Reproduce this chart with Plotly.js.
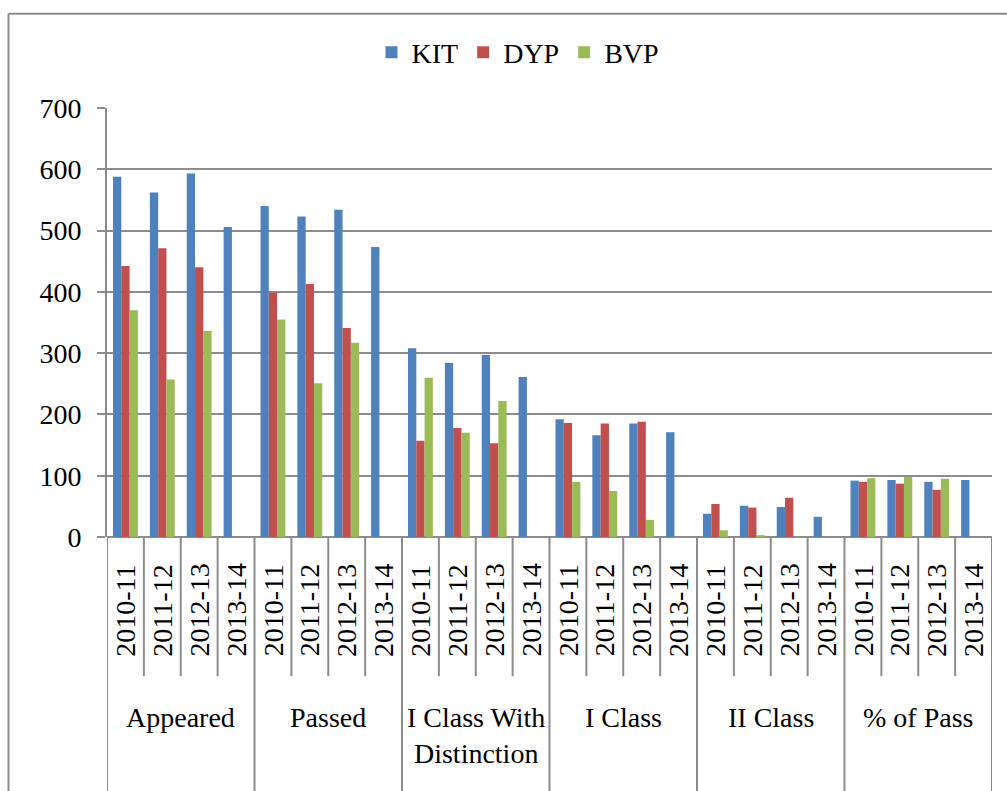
<!DOCTYPE html>
<html>
<head>
<meta charset="utf-8">
<script src="https://cdn.plot.ly/plotly-3.0.1.min.js"></script>
<style>html,body{margin:0;padding:0;background:#fff;}#chart{width:1007px;height:791px;}</style>
</head>
<body>
<div id="chart"></div>
<script>
// ---- data ----
const groups = ["Appeared", "Passed", "I Class With<br>Distinction", "I Class", "II Class", "% of Pass"];
const years = ["2010-11", "2011-12", "2012-13", "2013-14"];
const seriesNames = ["KIT", "DYP", "BVP"];
const kit = [588, 562, 593, 506, 540, 523, 534, 473, 308, 284, 297, 261, 192, 166, 185, 171, 38, 51, 49, 33, 92, 93, 90, 93];
const dyp = [442, 471, 440, null, 399, 413, 341, null, 157, 178, 153, null, 186, 185, 188, null, 54, 48, 64, null, 90, 87, 77, null];
const bvp = [370, 257, 336, null, 355, 251, 317, null, 260, 170, 222, null, 90, 75, 28, null, 11, 3, null, null, 96, 98, 95, null];
const yTicks = [0, 100, 200, 300, 400, 500, 600, 700];

// ---- build ----
const colors = ["#4F81BD", "#C0504D", "#9BBB59"];
const cats = [];
groups.forEach(g => years.forEach(y => cats.push(g.replace("<br>", " ") + " | " + y)));
const values = [kit, dyp, bvp];
const traces = values.map((v, i) => ({
  type: "bar", name: seriesNames[i], x: cats, y: v,
  marker: {color: colors[i], line: {width: 0}}, hoverinfo: "y+name"
}));

const font = "Liberation Serif";
const gray = "#8c8c8c";
const H = 430; // plot height in px
const pyFromPx = px => (537.5 - px) / H;

const annotations = [];
const shapes = [];
cats.forEach((c, i) => {
  annotations.push({
    x: i, xref: "x", y: pyFromPx(611), yref: "paper",
    text: years[i % years.length], showarrow: false, textangle: -90,
    xanchor: "center", yanchor: "middle",
    font: {family: font, size: 28, color: "#000"}
  });
  const isGroupStart = i % years.length === 0;
  shapes.push({
    type: "line", xref: "x", yref: "paper", x0: i - 0.5, x1: i - 0.5,
    y0: 0, y1: isGroupStart ? pyFromPx(800) : pyFromPx(677),
    line: {color: gray, width: 2}
  });
});
shapes.push({
  type: "line", xref: "x", yref: "paper", x0: cats.length - 0.5, x1: cats.length - 0.5,
  y0: 0, y1: pyFromPx(800), line: {color: gray, width: 2}
});
groups.forEach((g, gi) => {
  annotations.push({
    x: gi * years.length + (years.length - 1) / 2, xref: "x",
    y: pyFromPx(701), yref: "paper", text: g, showarrow: false,
    xanchor: "center", yanchor: "top",
    font: {family: font, size: 28, color: "#000"}
  });
});
// outer chart border (left and top)
shapes.push({type: "line", xref: "paper", yref: "paper",
  x0: (8.5 - 107) / 885, x1: (8.5 - 107) / 885, y0: pyFromPx(13), y1: pyFromPx(800),
  line: {color: gray, width: 2}});
shapes.push({type: "line", xref: "paper", yref: "paper",
  x0: (8.5 - 107) / 885, x1: 1.05, y0: pyFromPx(13), y1: pyFromPx(13),
  line: {color: gray, width: 2}});

const layout = {
  width: 1007, height: 791,
  margin: {l: 107, r: 15, t: 107.5, b: 253.5},
  paper_bgcolor: "#fff", plot_bgcolor: "#fff",
  barmode: "group", bargap: 0.325, bargroupgap: 0,
  font: {family: font, size: 28, color: "#000"},
  showlegend: true,
  legend: {orientation: "h", x: (518 - 107) / 885, xanchor: "center",
    y: 1 + (537.5 - 430 - 52) / H, yanchor: "middle",
    font: {family: font, size: 28, color: "#000"}, itemwidth: 30, traceorder: "normal"},
  xaxis: {type: "category", range: [-0.5, cats.length - 0.5], showticklabels: false,
    showgrid: false, zeroline: false, showline: false, ticks: "", fixedrange: true},
  yaxis: {range: [0, 700], tickvals: yTicks, ticktext: yTicks.map(String),
    showgrid: true, gridcolor: gray, gridwidth: 2, zeroline: true, zerolinecolor: gray, zerolinewidth: 2,
    showline: true, linecolor: gray, linewidth: 2, ticks: "outside", ticklen: 8, tickcolor: gray, tickwidth: 2,
    ticklabelstandoff: 10,
    tickfont: {family: font, size: 28, color: "#000"}, fixedrange: true},
  annotations: annotations,
  shapes: shapes
};

Plotly.newPlot("chart", traces, layout, {displayModeBar: false, staticPlot: true});
</script>
</body>
</html>
